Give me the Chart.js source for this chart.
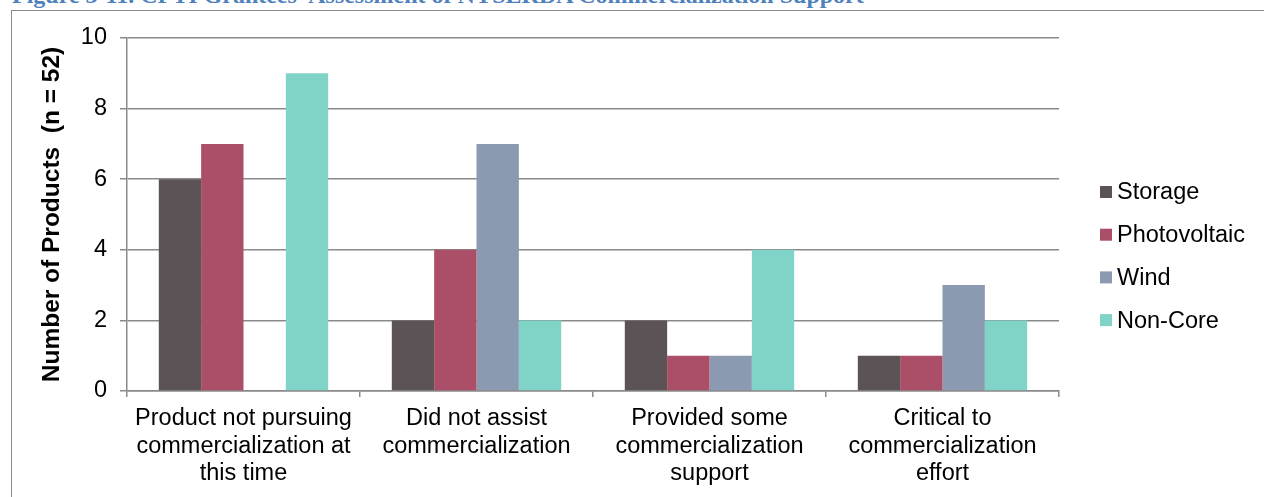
<!DOCTYPE html>
<html>
<head>
<meta charset="utf-8">
<script src="https://cdn.jsdelivr.net/npm/chart.js@4"></script>
<style>
  html, body { margin: 0; padding: 0; background: #fff; overflow: hidden; }
  #wrap { position: absolute; left: 0; top: 0; width: 1264px; height: 497px; }
  #frame {
    position: absolute; left: 11px; top: 10px; right: -20px; bottom: -20px;
    border-left: 1.5px solid #8a8a8a; border-top: 1.5px solid #8a8a8a;
  }
  #caption {
    position: absolute; left: 12px; top: -17px; white-space: nowrap;
    font: bold 24px/24px "Liberation Serif", "Times New Roman", serif; color: #4f81bd;
  }
  #chartBox { position: absolute; left: 0; top: 0; width: 1264px; height: 497px; }
</style>
</head>
<body>
<div id="wrap">
  <div id="caption">Figure 3-11. CPTI Grantees' Assessment of NYSERDA Commercialization Support</div>
  <div id="frame"></div>
  <div id="chartBox"><canvas id="chart"></canvas></div>
</div>
<script>
// Grantee responses, one value per category
const categories = [
    ['Product not pursuing', 'commercialization at', 'this time'],
    ['Did not assist', 'commercialization'],
    ['Provided some', 'commercialization', 'support'],
    ['Critical to', 'commercialization', 'effort']
];
const storage      = [6, 2, 2, 1];
const photovoltaic = [7, 4, 1, 1];
const wind         = [0, 7, 1, 3];
const nonCore      = [9, 2, 4, 2];
const seriesNames  = ['Storage', 'Photovoltaic', 'Wind', 'Non-Core'];
const seriesColors = ['#5b5355', '#ab4e67', '#8b99b1', '#80d3c7'];
const yTicks       = [0, 2, 4, 6, 8, 10];

const FONT = '"Liberation Sans", Arial, sans-serif';
const GRID = '#8a8a8a';

Chart.defaults.color = '#000';
Chart.defaults.font.family = FONT;

// Legend on the right, drawn as a plain column of swatches
const sideLegend = {
    id: 'sideLegend',
    afterDraw(chart) {
        const ctx = chart.ctx;
        ctx.save();
        ctx.font = '23.5px ' + FONT;
        ctx.textBaseline = 'middle';
        chart.data.datasets.forEach((ds, i) => {
            const y = 192 + i * 42.7;
            ctx.fillStyle = ds.backgroundColor;
            ctx.fillRect(1100, y - 6, 12, 12);
            ctx.fillStyle = '#000';
            ctx.fillText(ds.label, 1117, y + 1);
        });
        ctx.restore();
    }
};

const seriesData = [storage, photovoltaic, wind, nonCore];

new Chart(document.getElementById('chart'), {
    type: 'bar',
    data: {
        labels: categories,
        datasets: seriesData.map((values, i) => ({
            label: seriesNames[i],
            data: values,
            backgroundColor: seriesColors[i],
            borderWidth: 0,
            categoryPercentage: 0.727,
            barPercentage: 1.0
        }))
    },
    options: {
        responsive: true,
        maintainAspectRatio: false,
        animation: false,
        layout: { padding: { left: 38, top: 38, right: 205, bottom: 0 } },
        plugins: {
            legend: { display: false },
            tooltip: { enabled: false }
        },
        scales: {
            x: {
                grid: {
                    offset: true,
                    drawOnChartArea: false,
                    drawTicks: true,
                    tickLength: 6,
                    color: GRID,
                    lineWidth: 1.5
                },
                border: { color: GRID, width: 1.5 },
                ticks: {
                    font: { size: 23.5, lineHeight: 1.17 },
                    padding: 8,
                    maxRotation: 0,
                    autoSkip: false
                },
                afterFit(scale) { scale.height = 106; }
            },
            y: {
                min: 0,
                max: 10,
                afterBuildTicks(scale) { scale.ticks = yTicks.map(v => ({ value: v })); },
                grid: {
                    color: GRID,
                    lineWidth: 1.5,
                    tickLength: 7
                },
                border: { color: GRID, width: 1.5 },
                ticks: {
                    font: { size: 23.5 },
                    padding: 13
                },
                title: {
                    display: true,
                    text: 'Number of Products  (n = 52)',
                    font: { size: 24.5, weight: 'bold', lineHeight: 1.2 },
                    padding: 0
                },
                afterFit(scale) { scale.width = 89; }
            }
        }
    },
    plugins: [sideLegend]
});
</script>
</body>
</html>
